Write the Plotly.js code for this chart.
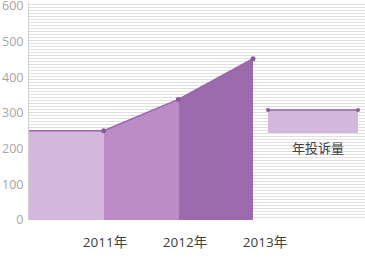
<!DOCTYPE html>
<html>
<head>
<meta charset="utf-8">
<script src="https://cdn.plot.ly/plotly-3.0.1.min.js"></script>
<style>html,body{margin:0;padding:0;background:#fff;}#chart{width:365px;height:263px;}</style>
</head>
<body>
<div id="chart"></div>
<script>
// Data
const years = [2010, 2011, 2012, 2013];
const complaints = [250, 250, 338, 452];
const tickYears = [2011, 2012, 2013];
const tickLabels = ['2011年', '2012年', '2013年'];
const seriesName = '年投诉量';
const segmentColors = ['#d4b7dd', '#bb8cc6', '#9d6aad'];

const traces = [];
for (let i = 0; i < years.length - 1; i++) {
  traces.push({
    x: [years[i], years[i + 1]],
    y: [complaints[i], complaints[i + 1]],
    type: 'scatter', mode: 'lines', fill: 'tozeroy',
    fillcolor: segmentColors[i], line: {width: 0, color: segmentColors[i]},
    hoverinfo: 'skip', showlegend: false
  });
}
traces.push({
  x: years, y: complaints, type: 'scatter', mode: 'lines',
  line: {color: '#9a66aa', width: 1.5}, showlegend: false, hoverinfo: 'skip'
});
traces.push({
  x: years.slice(1), y: complaints.slice(1), type: 'scatter', mode: 'markers',
  marker: {color: '#8b5a9b', size: 5}, showlegend: false, name: seriesName
});
// label axis carrier
traces.push({
  x: tickYears, y: [null, null, null], xaxis: 'x2', type: 'scatter', mode: 'markers',
  marker: {opacity: 0}, showlegend: false, hoverinfo: 'skip'
});

const L = 29, R = 365, T = 2, B = 220;
const px = v => (v - L) / (R - L);
const py = v => (B - v) / (B - T);

const layout = {
  width: 365, height: 263,
  margin: {l: L, r: 365 - R, t: T, b: 263 - B, pad: 0},
  paper_bgcolor: '#ffffff', plot_bgcolor: '#ffffff',
  font: {family: '"Open Sans", "Noto Sans CJK SC", sans-serif'},
  showlegend: false,
  xaxis: {
    range: [2010, 2014.5], showgrid: false, zeroline: false,
    showticklabels: false, ticks: '', showline: false, fixedrange: true
  },
  xaxis2: {
    overlaying: 'x', anchor: 'y', side: 'bottom',
    range: [2010.05, 2014.25], tickvals: tickYears, ticktext: tickLabels,
    showgrid: false, zeroline: false, showline: false,
    ticks: 'outside', ticklen: 10, tickcolor: 'rgba(0,0,0,0)',
    tickfont: {size: 13.5, color: '#404040'}
  },
  yaxis: {
    range: [0, 611], dtick: 100, tick0: 0, showgrid: false, zeroline: false,
    showline: true, linecolor: '#cfcfcf', linewidth: 1,
    ticks: 'outside', ticklen: 2, tickcolor: 'rgba(0,0,0,0)',
    ticklabeloverflow: 'allow',
    tickfont: {size: 12.5, color: '#a6a6a6'},
    minor: {dtick: 8.4, tick0: 0, showgrid: true, gridcolor: '#e0e0e0', gridwidth: 1, ticks: ''}
  },
  shapes: [
    {type: 'rect', xref: 'paper', yref: 'paper', x0: px(268), x1: px(358), y0: py(133), y1: py(110),
     fillcolor: segmentColors[0], line: {width: 0}},
    {type: 'line', xref: 'paper', yref: 'paper', x0: px(268), x1: px(358), y0: py(110), y1: py(110),
     line: {color: '#9a66aa', width: 1.5}},
    {type: 'circle', xref: 'paper', yref: 'paper', x0: px(266), x1: px(270), y0: py(112), y1: py(108),
     fillcolor: '#8b5a9b', line: {width: 0}},
    {type: 'circle', xref: 'paper', yref: 'paper', x0: px(356), x1: px(360), y0: py(112), y1: py(108),
     fillcolor: '#8b5a9b', line: {width: 0}}
  ],
  annotations: [
    {xref: 'paper', yref: 'paper', x: px(318), y: py(148), text: seriesName, showarrow: false,
     xanchor: 'center', yanchor: 'middle', font: {size: 13, color: '#404040'}}
  ]
};

Plotly.newPlot('chart', traces, layout, {displayModeBar: false, staticPlot: true});
</script>
</body>
</html>
